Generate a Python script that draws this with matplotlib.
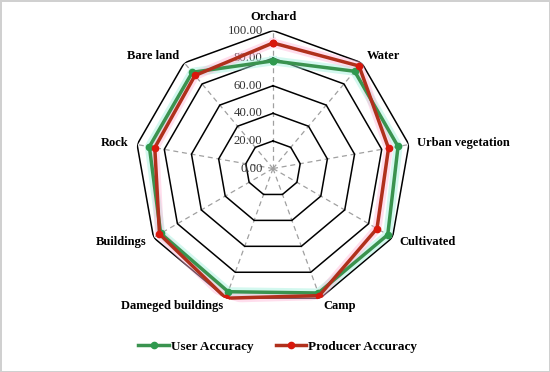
import numpy as np
import matplotlib
matplotlib.use("Agg")
import matplotlib.pyplot as plt

# data
categories = ["Orchard", "Water", "Urban vegetation", "Cultivated", "Camp",
              "Dameged buildings", "Buildings", "Rock", "Bare land"]
user_acc = [78, 92, 92, 96, 96, 95, 94, 91, 91]
producer_acc = [91, 97, 85, 87, 98, 100, 95, 87, 88]
ring_values = [20, 40, 60, 80, 100]
tick_values = [0, 20, 40, 60, 80, 100]

plt.rcParams["font.family"] = ["Liberation Serif", "DejaVu Serif"]

fig = plt.figure(figsize=(5.5, 3.72), dpi=100)
fig.patch.set_edgecolor("#d0d0d0")
fig.patch.set_linewidth(1.0)

ax = fig.add_axes([0.2455, 0.176, 0.5018, 0.742], projection="polar")
ax.set_theta_zero_location("N")
ax.set_theta_direction(-1)
ax.set_ylim(0, 100)
ax.axis("off")

n = len(categories)
angles = np.linspace(0, 2 * np.pi, n, endpoint=False)
closed = np.append(angles, angles[0])

# spokes (grey dashed)
for a in angles:
    ax.plot([a, a], [0, 100], color="#a0a0a0", lw=0.9, ls=(0, (4, 3)), zorder=1)

# polygon rings
for rv in ring_values:
    ax.plot(closed, [rv] * (n + 1), color="black", lw=1.1, zorder=2)

# tick labels along the top spoke
for tv in tick_values:
    ax.annotate(f"{tv:.2f}", xy=(0, tv), xytext=(-7.5, 0), textcoords="offset points",
                ha="right", va="center", fontsize=9.2, color="#333333", zorder=3)

# category labels
for a, lab in zip(angles, categories):
    deg = np.degrees(a)
    if deg < 1:
        ax.text(a, 110, lab, ha="center", va="center", fontsize=9, fontweight="bold")
    elif deg < 180:
        ax.text(a, 106, lab, ha="left", va="center", fontsize=9, fontweight="bold")
    else:
        ax.text(a, 106, lab, ha="right", va="center", fontsize=9, fontweight="bold")

# series with soft glow
u = np.append(user_acc, user_acc[0])
p = np.append(producer_acc, producer_acc[0])
ax.plot(closed, u, color="#9ff0dc", lw=6.5, alpha=0.45, zorder=4, solid_joinstyle="miter")
ax.plot(closed, p, color="#ffb6d8", lw=6.5, alpha=0.45, zorder=4, solid_joinstyle="miter")
l1, = ax.plot(closed, u, color="#3a934f", lw=2.5, marker="o", ms=4.5,
              mfc="#2f9a4e", mec="#2f9a4e", zorder=5, label="User Accuracy")
l2, = ax.plot(closed, p, color="#b0301c", lw=2.5, marker="o", ms=4.5,
              mfc="#d8180c", mec="#d8180c", zorder=6, label="Producer Accuracy")

fig.legend(handles=[l1, l2], loc="center", bbox_to_anchor=(0.505, 0.068), ncol=2,
           frameon=False, prop={"weight": "bold", "size": 9.5},
           handlelength=2.3, handletextpad=0.15, columnspacing=1.7)

fig.savefig("out.png", dpi=100)
